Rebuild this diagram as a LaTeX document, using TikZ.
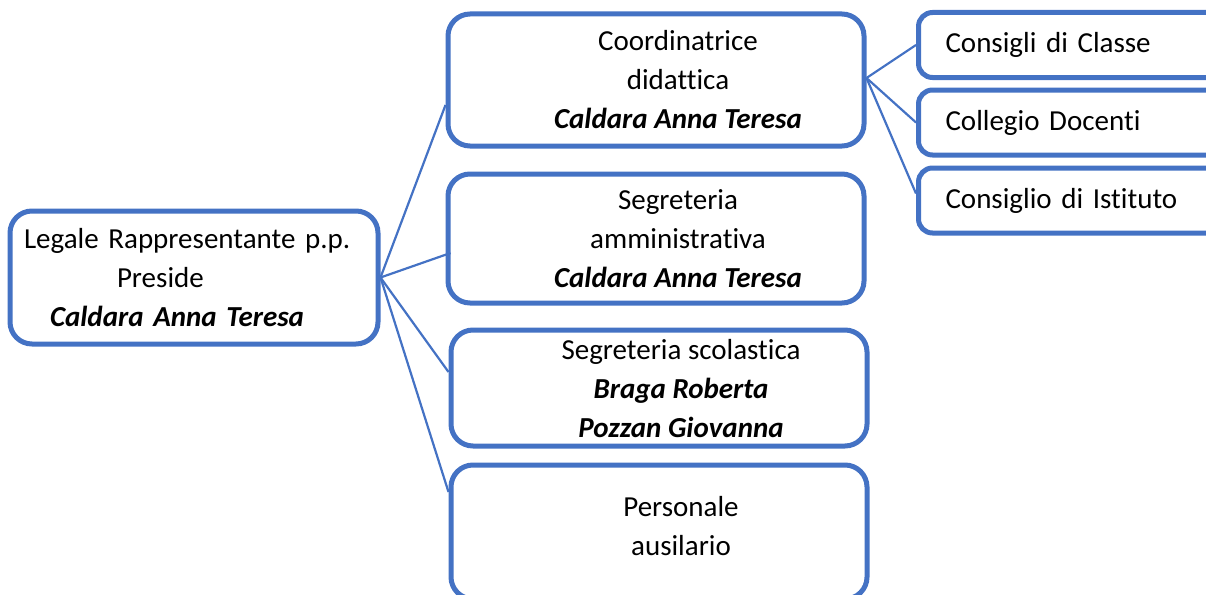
\documentclass[tikz,border=0pt]{standalone}
\usepackage{fontspec}
\setmainfont{Carlito}[Ligatures=NoCommon]
\usepackage{tikz}

% shift a centred line to the right
\newcommand{\rsh}{\hspace*{44pt}}

\begin{document}
\begin{tikzpicture}[x=1pt,y=-1pt,
  box/.style={draw=boxblue, line width=5pt, rounded corners=22pt, fill=white,
    font=\fontsize{29}{39}\selectfont, inner sep=0pt, align=center},
  sidebox/.style={draw=boxblue, line width=5pt, rounded corners=14pt, fill=white,
    font=\fontsize{29}{39}\selectfont, inner xsep=27pt, inner ysep=0pt,
    text width=276pt, align=left, minimum height=65pt, anchor=west},
  link/.style={draw=boxblue, line width=2.2pt}]
% Define colors
\definecolor{boxblue}{RGB}{68,114,196}

\useasboundingbox (0,0) rectangle (1206,594);

% Head of the school
\node[box, align=left, text width=340pt, inner xsep=14pt, minimum height=133pt]
  (preside) at (194,277.5)
  {Legale Rappresentante p.p.\\\hspace*{93pt}Preside\\\hspace*{26pt}\textbf{\textit{Caldara Anna Teresa}}};

% Offices
\node[box, minimum width=416pt, minimum height=132pt] (coord) at (656,80)
  {\rsh Coordinatrice\\\rsh didattica\\\rsh\textbf{\textit{Caldara Anna Teresa}}};
\node[box, minimum width=416pt, minimum height=129pt] (ammin) at (656,238.5)
  {\rsh Segreteria\\\rsh amministrativa\\\rsh\textbf{\textit{Caldara Anna Teresa}}};
\node[box, minimum width=416pt, minimum height=116pt, text depth=0pt] (scol) at (659,388)
  {\rsh Segreteria scolastica\\\rsh\textbf{\textit{Braga Roberta}}\\\rsh\textbf{\textit{Pozzan Giovanna}}};
\node[box, minimum width=416pt, minimum height=134pt, text depth=12pt] (ausil) at (659,532)
  {\rsh Personale\\\rsh ausilario};

% Boards
\node[sidebox] (classe) at (916,45) {Consigli di Classe};
\node[sidebox] (collegio) at (916,122.5) {Collegio Docenti};
\node[sidebox] (istituto) at (916,200.5) {Consiglio di Istituto};

% Links from the head
\draw[link] (preside.east) -- ([yshift=-25pt]coord.west);
\draw[link] (preside.east) -- ([xshift=5pt,yshift=-14.5pt]ammin.west);
\draw[link] (preside.east) -- ([yshift=16pt]scol.west);
\draw[link] (preside.east) -- ([yshift=40pt]ausil.west);

% Links to the boards
\draw[link] ([yshift=2pt]coord.east) -- (classe.west);
\draw[link] ([yshift=2pt]coord.east) -- (collegio.west);
\draw[link] ([yshift=2pt]coord.east) -- ([yshift=7pt]istituto.west);

\end{tikzpicture}
\end{document}
